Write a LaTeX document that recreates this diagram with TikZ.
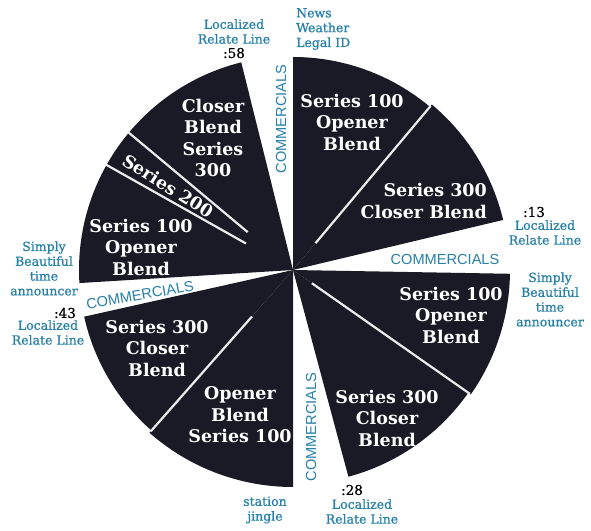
\documentclass[tikz,border=0pt]{standalone}
\usepackage{fontspec}
\setmainfont{DejaVu Serif}
\newfontfamily\comfont{Liberation Sans}
\newfontfamily\labelfont[FakeBold=0.8]{DejaVu Serif}
\usepackage{xcolor}
\usepackage{tikz}
\usetikzlibrary{calc}
\definecolor{ClockDark}{RGB}{26, 26, 38}
\definecolor{LabelBlue}{RGB}{38, 128, 168}

\tikzset{
  slice/.style={fill=ClockDark},
  divider/.style={draw=white!92!black,line width=2.2pt},
  segtext/.style={text=white,font=\bfseries\fontsize{17.5}{21.5}\selectfont,align=center,inner sep=0pt},
  bluelabel/.style={text=LabelBlue,font=\labelfont\fontsize{12.5}{14.8}\selectfont,align=center,inner sep=0pt},
  minute/.style={text=black,font=\labelfont\fontsize{13.5}{14}\selectfont,inner sep=0pt},
  commtext/.style={text=LabelBlue,font=\comfont\fontsize{14.6}{16}\selectfont,inner sep=0pt}
}

\begin{document}
\begin{tikzpicture}[x=1pt,y=1pt]
    \fill[white] (0,0) rectangle (591,530);
    \useasboundingbox (0,0) rectangle (591,530);
    \coordinate (C) at (293,260);

    % slices of the hour, :00 at the top
    \fill[slice] (C) -- ++(50:213pt) arc[start angle=50,end angle=90,radius=213pt] -- cycle;
    \fill[slice] (C) -- ++(13.4:216pt) arc[start angle=13.4,end angle=50,radius=216pt] -- cycle;
    \fill[slice] (C) -- ++(-35:217pt) arc[start angle=-35,end angle=-1,radius=217pt] -- cycle;
    \fill[slice] (C) -- ++(-75:214pt) arc[start angle=-75,end angle=-35,radius=214pt] -- cycle;
    \fill[slice] (C) -- ++(228.6:217pt) arc[start angle=228.6,end angle=270,radius=217pt] -- cycle;
    \fill[slice] (C) -- ++(192.6:214pt) arc[start angle=192.6,end angle=228.6,radius=214pt] -- cycle;
    \fill[slice] (C) -- ++(104:214pt) arc[start angle=104,end angle=183.5,radius=214pt] -- cycle;

    \draw[divider] ($(C)+(50:35pt)$) -- ($(C)+(50:214pt)$);
    \draw[divider] ($(C)+(-35:23pt)$) -- ($(C)+(-35:216pt)$);
    \draw[divider] ($(C)+(228.6:62pt)$) -- ($(C)+(228.6:215pt)$);
    \draw[divider] ($(C)+(150.6:54pt)$) -- ($(C)+(150.6:215pt)$);
    \draw[divider] ($(C)+(140.1:59pt)$) -- ($(C)+(140.1:215pt)$);

    % texts in the slices
    \node[segtext] (openerA) at (352,408) {Series 100\\Opener\\Blend};
    \node[segtext,align=right,anchor=east] (closerA) at (487,329) {Series 300\\Closer Blend};
    \node[segtext] (openerB) at (451,215) {Series 100\\Opener\\Blend};
    \node[segtext] (closerB) at (387,112) {Series 300\\Closer\\Blend};
    \node[segtext] (openerC) at (240,115) {Opener\\Blend\\Series 100};
    \node[segtext] (closerC) at (157,182) {Series 300\\Closer\\Blend};
    \node[segtext] (openerD) at (141,283) {Series 100\\Opener\\Blend};
    \node[segtext,rotate=-32] (series200) at (168,344) {Series 200};
    \node[segtext] (closerD) at (213,392) {Closer\\Blend\\Series\\300};

    % commercial breaks
    \node[commtext,rotate=90] (commTop) at (281,411) {COMMERCIALS};
    \node[commtext] (commRight) at (445,271) {COMMERCIALS};
    \node[commtext,rotate=90] (commBottom) at (311,103) {COMMERCIALS};
    \node[commtext,rotate=10] (commLeft) at (140,235) {COMMERCIALS};

    % labels round the clock
    \node[bluelabel] (relate58) at (234,498.5) {Localized\\Relate Line};
    \node[minute] (min58) at (234,477) {:58};
    \node[bluelabel,align=left,anchor=west] (news) at (296,501) {News\\Weather\\Legal ID};
    \node[minute] (min13) at (534,318) {:13};
    \node[bluelabel] (relate13) at (545,297.5) {Localized\\Relate Line};
    \node[bluelabel] (timeRight) at (550,230.5) {Simply\\Beautiful\\time\\announcer};
    \node[minute] (min28) at (352,40) {:28};
    \node[bluelabel] (relate28) at (362,18.5) {Localized\\Relate Line};
    \node[bluelabel] (jingle) at (265,20) {station\\jingle};
    \node[bluelabel] (timeLeft) at (44,261.5) {Simply\\Beautiful\\time\\announcer};
    \node[minute] (min43) at (65,217) {:43};
    \node[bluelabel] (relate43) at (48,197.5) {Localized\\Relate Line};
\end{tikzpicture}
\end{document}
